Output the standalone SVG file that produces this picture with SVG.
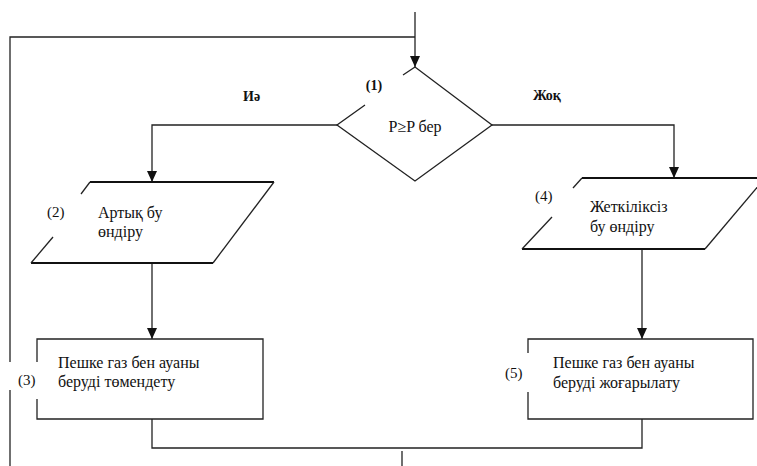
<svg xmlns="http://www.w3.org/2000/svg" width="757" height="466" viewBox="0 0 757 466">
  <defs>
    <marker id="arrow" viewBox="0 0 11 10" refX="11" refY="5" markerWidth="11" markerHeight="10" markerUnits="userSpaceOnUse" orient="auto">
      <path d="M0,0 L11,5 L0,10 Z" fill="#111"/>
    </marker>
    <style>
      .line { fill: none; stroke: #222; stroke-width: 1.3; }
      .thick { fill: none; stroke: #111; stroke-width: 2.2; }
      text { font-family: 'Liberation Serif', 'Times New Roman', Times, serif; fill: #111; }
      .txt { font-size: 16px; }
      .num { font-size: 15px; }
      .lbl { font-size: 14px; font-weight: bold; }
    </style>
  </defs>
  <rect width="757" height="466" fill="#fff"/>

  <!-- connectors -->
  <g id="connectors">
    <!-- entry into decision -->
    <line class="line" x1="415" y1="12" x2="415" y2="67" marker-end="url(#arrow)"/>
    <!-- loop back from the left -->
    <polyline class="line" points="10,362 10,37 415,37"/>
    <line class="line" x1="10" y1="390" x2="10" y2="466"/>
    <!-- yes branch -->
    <polyline class="line" points="337,125 152,125 152,182" marker-end="url(#arrow)"/>
    <!-- no branch -->
    <polyline class="line" points="492,125 674,125 674,178" marker-end="url(#arrow)"/>
    <!-- (2) to (3) -->
    <line class="line" x1="152" y1="263" x2="152" y2="339" marker-end="url(#arrow)"/>
    <!-- (4) to (5) -->
    <line class="line" x1="642" y1="249" x2="642" y2="339" marker-end="url(#arrow)"/>
    <!-- merge below -->
    <polyline class="line" points="152,419 152,448 642,448 642,419"/>
    <line class="line" x1="402" y1="451" x2="402" y2="466"/>
  </g>

  <!-- (1) decision -->
  <g id="node1">
    <polyline class="line" points="403,75 415,67 492,125 415,181 337,125 365,105"/>
    <text class="lbl" x="374" y="90" text-anchor="middle">(1)</text>
    <text class="txt" x="415" y="132" text-anchor="middle">P≥P бер</text>
  </g>

  <!-- branch labels -->
  <g id="label-yes">
    <text class="lbl" x="243" y="101">Иә</text>
  </g>
  <g id="label-no">
    <text class="lbl" x="533" y="100">Жоқ</text>
  </g>

  <!-- (2) parallelogram -->
  <g id="node2">
    <line class="thick" x1="90" y1="182" x2="274" y2="182"/>
    <line class="thick" x1="31" y1="263" x2="213" y2="263"/>
    <line class="line" x1="274" y1="182" x2="213" y2="263"/>
    <line class="line" x1="90" y1="182" x2="81" y2="194"/>
    <line class="line" x1="53" y1="237" x2="31" y2="263"/>
    <text class="num" x="47" y="217">(2)</text>
    <text class="txt" x="98" y="218">Артық бу</text>
    <text class="txt" x="98" y="237">өндіру</text>
  </g>

  <!-- (4) parallelogram -->
  <g id="node4">
    <line class="thick" x1="582" y1="178" x2="765" y2="178"/>
    <line class="thick" x1="522" y1="249" x2="705" y2="249"/>
    <line class="line" x1="765" y1="178" x2="705" y2="249"/>
    <line class="line" x1="582" y1="178" x2="573" y2="188"/>
    <line class="line" x1="552" y1="217" x2="522" y2="249"/>
    <text class="num" x="535" y="201">(4)</text>
    <text class="txt" x="590" y="212">Жеткіліксіз</text>
    <text class="txt" x="590" y="232">бу өндіру</text>
  </g>

  <!-- (3) process -->
  <g id="node3">
    <polyline class="line" points="37,362 37,339 263,339 263,419 37,419 37,399"/>
    <text class="num" x="18" y="385">(3)</text>
    <text class="txt" x="58" y="368">Пешке газ бен ауаны</text>
    <text class="txt" x="58" y="387">беруді төмендету</text>
  </g>

  <!-- (5) process -->
  <g id="node5">
    <polyline class="line" points="528,353 528,339 753,339 753,419 528,419 528,392"/>
    <text class="num" x="505" y="378">(5)</text>
    <text class="txt" x="553" y="368">Пешке газ бен ауаны</text>
    <text class="txt" x="553" y="388">беруді жоғарылату</text>
  </g>
</svg>
